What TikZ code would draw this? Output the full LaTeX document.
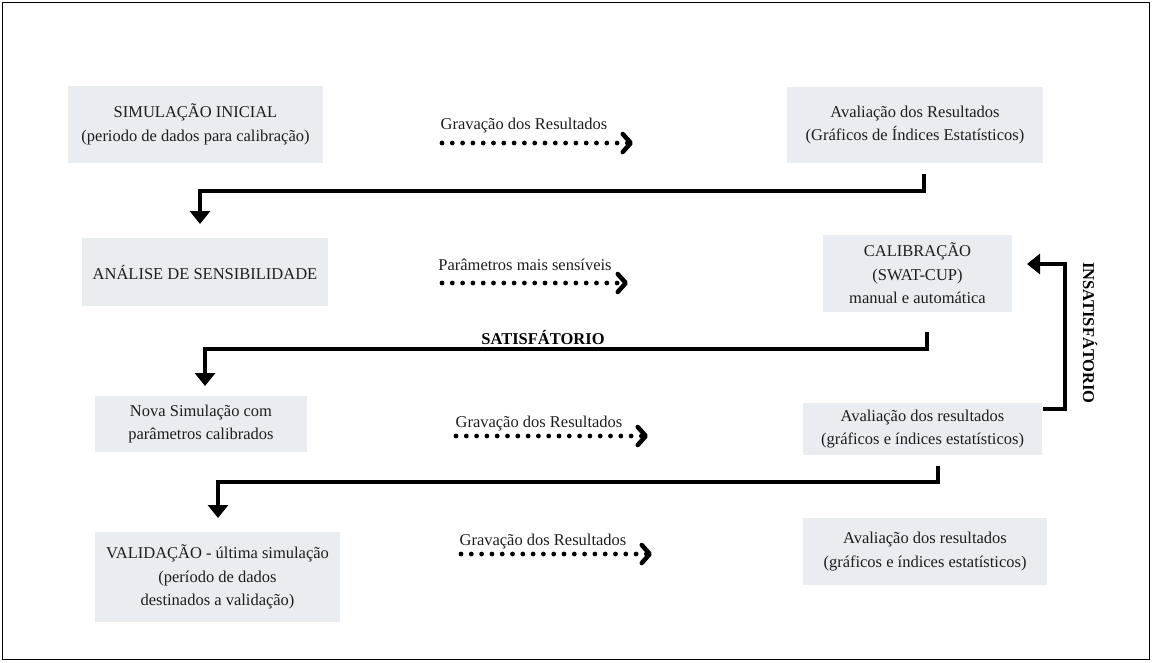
\documentclass[tikz,border=0pt]{standalone}
\usepackage{fontspec}
\setmainfont{Liberation Serif}
\usetikzlibrary{arrows.meta}
\definecolor{boxfill}{RGB}{233,236,240}
\definecolor{boxedge}{RGB}{214,218,225}
\definecolor{txt}{RGB}{30,30,30}
\begin{document}
\begin{tikzpicture}[x=1pt,y=-1pt,
  box/.style={fill=boxfill, draw=none, text=txt, align=center, inner sep=0pt,
    font=\fontsize{16.5}{23.5}\selectfont},
  lbl/.style={text=txt, inner sep=0pt, font=\fontsize{16.5}{20}\selectfont},
  blbl/.style={text=black, inner sep=0pt, font=\fontsize{16.5}{20}\selectfont\bfseries},
  dotarrow/.style={line width=4.8pt, line cap=round, dash pattern=on 0pt off 10.3pt,
    -{Straight Barb[length=8pt,width=18pt,line width=4.5pt,round]}},
  conn/.style={line width=4.5pt, -{Triangle[length=13pt,width=20pt]}}
]
\useasboundingbox (0,0) rectangle (1152,662);
\draw[line width=1.2pt] (2.5,2.5) rectangle (1149.5,659.5);

% boxes
\node[box, minimum width=255, minimum height=77] (b1) at (195.5,124.5)
  {SIMULAÇÃO INICIAL\\(periodo de dados para calibração)};
\node[box, minimum width=256, minimum height=76] (b2) at (915,125)
  {Avaliação dos Resultados\\(Gráficos de Índices Estatísticos)};
\node[box, minimum width=246, minimum height=68] (b3) at (205,272)
  {ANÁLISE DE SENSIBILIDADE};
\node[box, minimum width=189, minimum height=77] (b4) at (917.5,273.5)
  {CALIBRAÇÃO\\(SWAT-CUP)\\manual e automática};
\node[box, minimum width=212, minimum height=56] (b5) at (201,424)
  {Nova Simulação com\\parâmetros calibrados};
\node[box, minimum width=239, minimum height=52] (b6) at (922.5,429)
  {Avaliação dos resultados\\(gráficos e índices estatísticos)};
\node[box, minimum width=245, minimum height=90] (b7) at (217.5,577)
  {VALIDAÇÃO - última simulação\\(período de dados\\destinados a validação)};
\node[box, minimum width=244, minimum height=67] (b8) at (925,551.5)
  {Avaliação dos resultados\\(gráficos e índices estatísticos)};

% dotted arrows with labels
\node[lbl] (t1) at (524,126) {Gravação dos Resultados};
\coordinate (d1s) at (442,143); \coordinate (d1e) at (633,143);
\draw[dotarrow] (d1s) -- (d1e);

\node[lbl] (t2) at (525,265) {Parâmetros mais sensíveis};
\coordinate (d2s) at (442,283); \coordinate (d2e) at (628,283);
\draw[dotarrow] (d2s) -- (d2e);

\node[lbl] (t3) at (539,424) {Gravação dos Resultados};
\coordinate (d3s) at (456,436); \coordinate (d3e) at (648,436);
\draw[dotarrow] (d3s) -- (d3e);

\node[lbl] (t4) at (543,542) {Gravação dos Resultados};
\coordinate (d4s) at (461,554); \coordinate (d4e) at (652,554);
\draw[dotarrow] (d4s) -- (d4e);

% thick connectors
\coordinate (c1s) at (924,174); \coordinate (c1e) at (200,224);
\draw[conn] (c1s) -- ++(0,17) -| (c1e);

\coordinate (c2s) at (927,332); \coordinate (c2e) at (205,386);
\draw[conn] (c2s) -- ++(0,17) -| (c2e);
\node[blbl] (sat) at (543,337) {SATISFÁTORIO};

\coordinate (c3s) at (938,466); \coordinate (c3e) at (218,518);
\draw[conn] (c3s) -- ++(0,16) -| (c3e);

\coordinate (fbs) at (1043,409); \coordinate (fbe) at (1027,264);
\draw[conn] (fbs) -| ++(22,-145) -- (fbe);
\node[blbl, rotate=-90] (insat) at (1090,333) {INSATISFÁTORIO};
\end{tikzpicture}
\end{document}
